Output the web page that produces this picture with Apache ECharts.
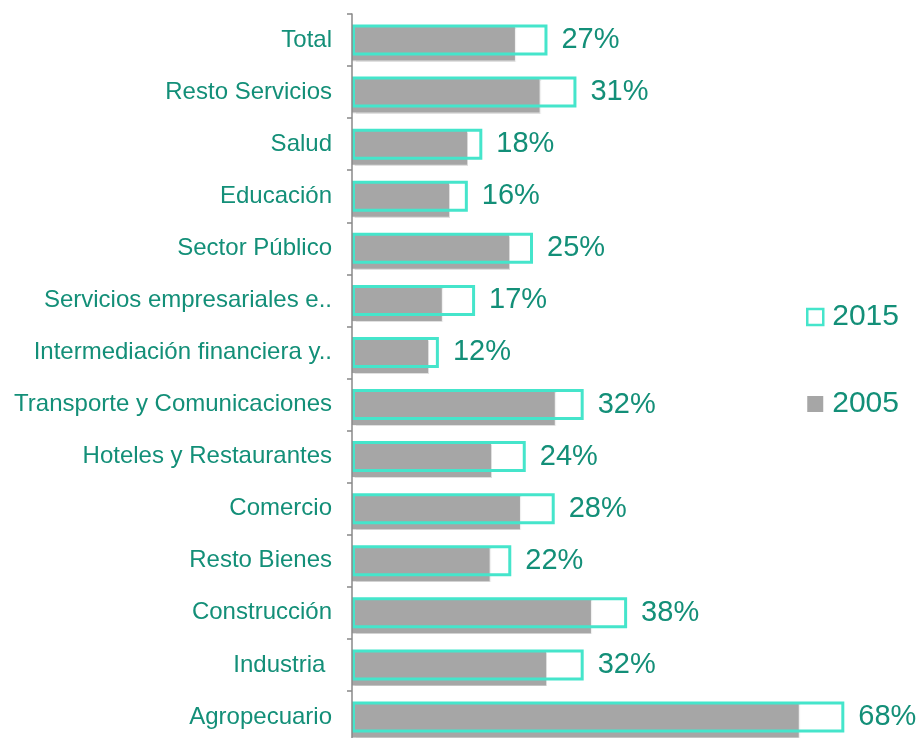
<!DOCTYPE html>
<html>
<head>
<meta charset="utf-8">
<title>Participación por sector 2005 y 2015</title>
<script src="https://cdn.jsdelivr.net/npm/echarts@6/dist/echarts.min.js"></script>
<style>
  html, body { margin: 0; padding: 0; background: #ffffff; }
  #chart { width: 919px; height: 738px; }
</style>
</head>
<body>
<div id="chart"></div>
<script>
// Sectors, top to bottom
const categories = [
  'Total',
  'Resto Servicios',
  'Salud',
  'Educación',
  'Sector Público',
  'Servicios empresariales e..',
  'Intermediación financiera y..',
  'Transporte y Comunicaciones',
  'Hoteles y Restaurantes',
  'Comercio',
  'Resto Bienes',
  'Construcción',
  'Industria ',
  'Agropecuario'
];

// Share (%) in 2015 — outlined bars with value labels
const values2015 = [27, 31, 18, 16, 25, 17, 12, 32, 24, 28, 22, 38, 32, 68];

// Share (%) in 2005 — solid grey bars
const values2005 = [22.5, 25.9, 15.9, 13.4, 21.7, 12.4, 10.5, 28.0, 19.2, 23.2, 19.0, 33.0, 26.8, 61.7];

const seriesNames = ['2015', '2005'];

const TEAL_LINE = '#45e5cb';
const TEAL_TEXT = '#138f78';
const GREY = '#a6a6a6';
const FONT = '"Liberation Sans", Arial, sans-serif';

const chart = echarts.init(document.getElementById('chart'), null, { renderer: 'canvas' });

// The plot runs slightly past the bottom edge, so the grid must not be fitted inside the canvas
const gridBox = { left: 352, width: 506.8, height: 729, outerBoundsMode: 'none', containLabel: false };

chart.setOption({
  animation: false,
  backgroundColor: '#ffffff',
  textStyle: { fontFamily: FONT },
  grid: [
    Object.assign({ top: 14 }, gridBox),
    Object.assign({ top: 17 }, gridBox)
  ],
  xAxis: [
    { type: 'value', gridIndex: 0, min: 0, max: 70, show: false },
    { type: 'value', gridIndex: 1, min: 0, max: 70, show: false }
  ],
  yAxis: [
    {
      type: 'category',
      gridIndex: 0,
      data: categories,
      inverse: true,
      axisLine: { show: true, lineStyle: { color: '#888888', width: 1.5 } },
      axisTick: { show: true, length: 5, lineStyle: { color: '#888888', width: 1.5 } },
      axisLabel: {
        color: TEAL_TEXT,
        fontSize: 24,
        fontFamily: FONT,
        margin: 20
      },
      splitLine: { show: false },
      z: 5
    },
    {
      type: 'category',
      gridIndex: 1,
      data: categories,
      inverse: true,
      show: false
    }
  ],
  legend: {
    orient: 'vertical',
    left: 806,
    top: 302,
    padding: 0,
    itemWidth: 16,
    itemHeight: 16,
    itemGap: 57,
    selectedMode: false,
    textStyle: { color: TEAL_TEXT, fontSize: 30, fontFamily: FONT, padding: [0, 0, 0, 4] },
    data: [
      { name: seriesNames[0], icon: 'rect', itemStyle: { color: '#ffffff', borderColor: TEAL_LINE, borderWidth: 2.5 } },
      { name: seriesNames[1], icon: 'rect', itemStyle: { color: GREY, borderWidth: 0 } }
    ]
  },
  series: [
    {
      name: seriesNames[1],
      type: 'bar',
      xAxisIndex: 1,
      yAxisIndex: 1,
      data: values2005,
      barWidth: 35,
      itemStyle: {
        color: GREY,
        shadowColor: 'rgba(0,0,0,0.12)',
        shadowOffsetX: 1,
        shadowOffsetY: 1,
        shadowBlur: 1
      },
      z: 2
    },
    {
      name: seriesNames[0],
      type: 'bar',
      xAxisIndex: 0,
      yAxisIndex: 0,
      data: values2015,
      barWidth: 31,
      itemStyle: {
        color: 'rgba(255,255,255,0)',
        borderColor: TEAL_LINE,
        borderWidth: 3
      },
      label: {
        show: true,
        position: 'right',
        distance: 14,
        color: TEAL_TEXT,
        fontSize: 29,
        fontFamily: FONT,
        formatter: p => p.value + '%'
      },
      z: 3
    }
  ]
});
</script>
</body>
</html>
